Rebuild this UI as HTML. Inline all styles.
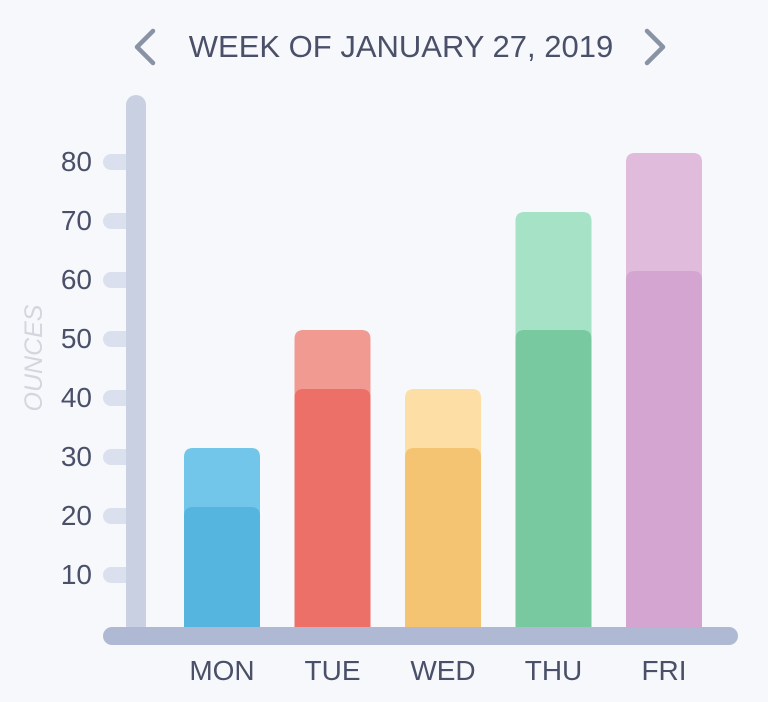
<!DOCTYPE html>
<html><head><meta charset="utf-8"><style>
html,body{margin:0;padding:0;background:#f7f8fc;}
svg{display:block;}
text{font-family:"Liberation Sans",sans-serif;}
</style></head><body>
<svg id="chart" width="768" height="702" viewBox="0 0 768 702">
<rect x="0" y="0" width="768" height="702" fill="#f7f8fc"/>
<polyline points="153,31 137,47 153,63" fill="none" stroke="#8a93a6" stroke-width="4.5" stroke-linecap="round" stroke-linejoin="round"/>
<polyline points="647,31 663,47 647,63" fill="none" stroke="#8a93a6" stroke-width="4.5" stroke-linecap="round" stroke-linejoin="round"/>
<text x="401" y="57" text-anchor="middle" font-size="31" fill="#4a5068">WEEK OF JANUARY 27, 2019</text>
<text transform="translate(42,358) rotate(-90)" text-anchor="middle" font-size="25" font-style="italic" fill="#d3d6dd">OUNCES</text>
<g id="ticks"></g>
<rect x="126" y="95" width="20" height="540" rx="10" fill="#c9d0e2"/>
<g id="bars"></g>
<rect x="103" y="627" width="635" height="18" rx="9" fill="#b0b9d4"/>
<g id="xlabels"></g>
</svg>
<script>
const categories=["MON","TUE","WED","THU","FRI"];
const totalValues=[30,50,40,70,80];
const baseValues=[20,40,30,50,60];
const tickValues=[10,20,30,40,50,60,70,80];
const tickLabels=["10","20","30","40","50","60","70","80"];
const lightColors=["#72c6ea","#f09a92","#fddea5","#a5e2c6","#e0bbdc"];
const darkColors=["#55b5df","#ec6f68","#f4c472","#78c99f","#d5a5d1"];
const NS="http://www.w3.org/2000/svg";
function y(v){return 625-v*5.9;}
function x(i){return 184+i*110.5;}
const bw=76;
function topRounded(x0,y0,w,h,r){return `M${x0},${y0+h}V${y0+r}Q${x0},${y0} ${x0+r},${y0}H${x0+w-r}Q${x0+w},${y0} ${x0+w},${y0+r}V${y0+h}Z`;}
const tg=document.getElementById('ticks');
tickValues.forEach((v,i)=>{
 const p=document.createElementNS(NS,'rect');
 p.setAttribute('x',103);p.setAttribute('y',y(v)+1);p.setAttribute('width',34);p.setAttribute('height',16);p.setAttribute('rx',8);p.setAttribute('fill','#dbe0ee');
 
 
 tg.appendChild(p);
 const t=document.createElementNS(NS,'text');
 t.setAttribute('x',92);t.setAttribute('y',y(v)+18);t.setAttribute('text-anchor','end');t.setAttribute('font-size','28');t.setAttribute('fill','#4a5068');
 t.textContent=tickLabels[i];
 
 
 tg.appendChild(t);
});
const bg=document.getElementById('bars');
const xg=document.getElementById('xlabels');
categories.forEach((c,i)=>{
 const l=document.createElementNS(NS,'path');
 l.setAttribute('d',topRounded(x(i),y(totalValues[i]),bw,627-y(totalValues[i]),9));
 l.setAttribute('fill',lightColors[i]);
 
 
 bg.appendChild(l);
 const d=document.createElementNS(NS,'path');
 d.setAttribute('d',topRounded(x(i),y(baseValues[i]),bw,627-y(baseValues[i]),9));
 d.setAttribute('fill',darkColors[i]);
 
 
 bg.appendChild(d);
 const t=document.createElementNS(NS,'text');
 t.setAttribute('x',x(i)+bw/2);t.setAttribute('y',680);t.setAttribute('text-anchor','middle');t.setAttribute('font-size','28');t.setAttribute('fill','#4a5068');
 t.textContent=c;
 
 
 xg.appendChild(t);
});
</script>
</body></html>
